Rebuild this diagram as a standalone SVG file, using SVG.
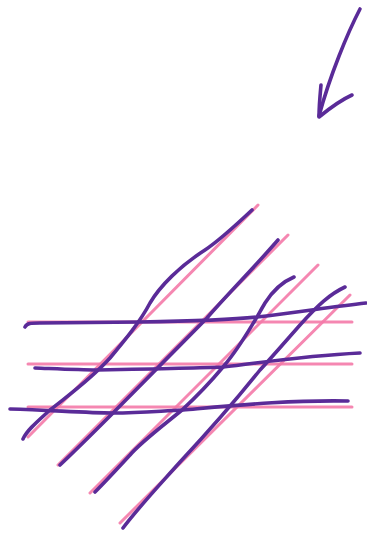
<svg xmlns="http://www.w3.org/2000/svg" width="367" height="533" viewBox="0 0 367 533">
<style>
.pink{fill:none;stroke:#f47aa8;stroke-width:3;stroke-linecap:round;opacity:0.9}
.ink{fill:none;stroke:#5a2b98;stroke-width:3.6;stroke-linecap:round;stroke-linejoin:round}
</style>
<rect width="367" height="533" fill="#ffffff"/>
<g id="guides">
<line class="pink" x1="28" y1="322" x2="352" y2="322"/>
<line class="pink" x1="28" y1="364" x2="352" y2="364"/>
<line class="pink" x1="28" y1="407" x2="352" y2="407"/>
<line class="pink" x1="258" y1="205" x2="28" y2="437"/>
<line class="pink" x1="288" y1="235" x2="58" y2="465"/>
<line class="pink" x1="318" y1="265" x2="90" y2="493"/>
<line class="pink" x1="350" y1="295" x2="120" y2="523"/>
</g>
<g id="strokes">
<path class="ink" d="M25,327 C27,323 31,323 40,323 L140,322 C200,321 230,320 257,317 C300,312 330,307 366,303"/>
<path class="ink" d="M35,368 C60,369 80,370 97,370 C150,369 200,368 223,367 C260,363 300,356 360,353"/>
<path class="ink" d="M10,409 C50,410 85,413 113,413 C140,413 160,411 183,410 C240,405 290,400 348,401"/>
<path class="ink" d="M252,210 C235,226 220,240 205,250 C180,266 160,286 150,303 C140,322 125,340 110,358 C90,380 70,394 50,410 C38,421 27,430 23,439"/>
<path class="ink" d="M278,240 C250,272 225,297 207,318 C175,350 150,376 113,413 C95,431 78,448 60,465"/>
<path class="ink" d="M294,277 C282,282 272,292 265,303 C255,320 242,345 223,367 C208,385 195,398 182,410 C160,428 140,443 130,455 C118,468 105,482 95,492"/>
<path class="ink" d="M345,287 C330,294 318,305 300,325 C285,342 272,357 260,370 C240,395 210,430 180,462 C155,490 138,508 123,528"/>
</g>
<g id="arrow">
<path class="ink" d="M360,9 C348,32 330,75 319,116"/>
<path class="ink" d="M321,85 C320,96 319,106 319,117 C330,108 341,100 352,95"/>
</g>
</svg>
